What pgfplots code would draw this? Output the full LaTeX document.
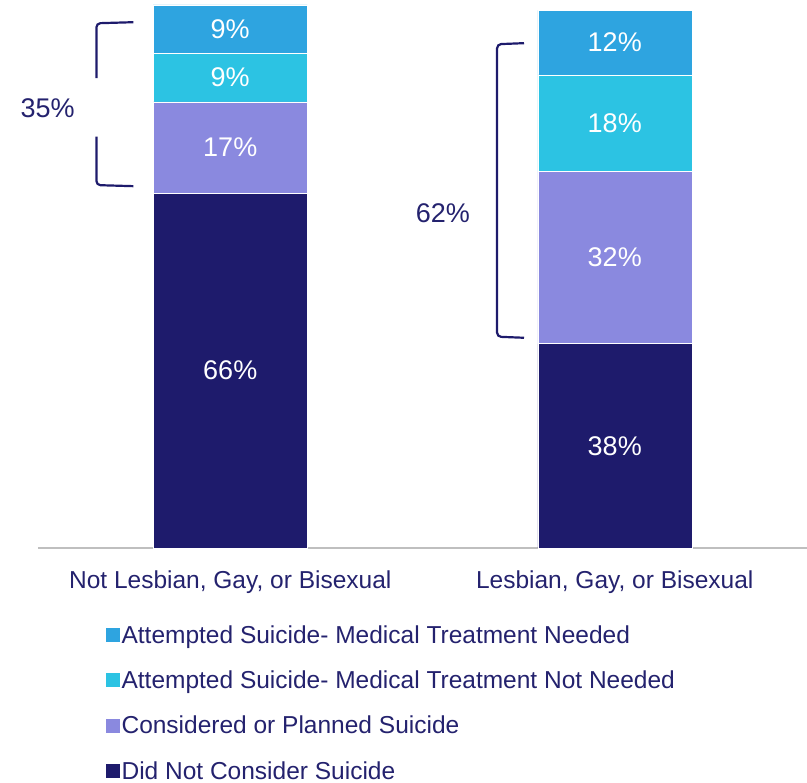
\documentclass[border=0pt]{standalone}
\usepackage{fontspec}
\setmainfont{Liberation Sans}
\usepackage{pgfplots}
\usepackage{pgfplotstable}
\pgfplotsset{compat=1.18}
\definecolor{cNavy}{HTML}{1E1B6C}
\definecolor{cLav}{HTML}{8A89DF}
\definecolor{cCyan}{HTML}{2CC3E3}
\definecolor{cBlue}{HTML}{2EA4E0}
\definecolor{cText}{HTML}{24226E}
\pgfplotstableread{
x did considered notneeded needed
0 66 17 9 9
1 38 32 18 12
}\datatable
\begin{document}
\begin{tikzpicture}
\useasboundingbox (0,0) rectangle (807pt,783pt);
\begin{axis}[
  at={(38pt,235pt)}, anchor=south west,
  scale only axis, width=769pt, height=548pt,
  ybar stacked, bar width=154pt,
  xmin=-0.5, xmax=1.5, ymin=0, ymax=101.93,
  axis x line=bottom, axis y line=none,
  x axis line style={-, draw=black!25, line width=1.5pt},
  xtick={0,1},
  xticklabels={{Not Lesbian, Gay, or Bisexual},{Lesbian, Gay, or Bisexual}},
  major tick length=0pt,
  xticklabel style={text=cText, font=\fontsize{24.5}{28}\selectfont, yshift=-19pt},
  clip=false,
  /pgf/number format/assume math mode=true,
  visualization depends on=rawy \as \rawy,
  nodes near coords={\pgfmathprintnumber[assume math mode=true]{\rawy}\%},
  every node near coord/.append style={anchor=center, text=white,
     font=\fontsize{27}{31}\selectfont},
  legend style={at={(0.0876,-0.1375)}, anchor=north west, draw=none, fill=none,
     font=\fontsize{24.5}{28}\selectfont, text=cText, row sep=22pt,
     cells={anchor=west}, inner sep=0pt},
  reverse legend,
  legend image code/.code={\fill[#1, draw=none] (-10pt,-7pt) rectangle (4pt,7pt);},
]
\addplot[fill=cNavy, draw=white, line width=0.5pt] table[x=x, y=did]{\datatable};
\addlegendentry{Did Not Consider Suicide}
\addplot[fill=cLav, draw=white, line width=0.5pt] table[x=x, y=considered]{\datatable};
\addlegendentry{Considered or Planned Suicide}
\addplot[fill=cCyan, draw=white, line width=0.5pt] table[x=x, y=notneeded]{\datatable};
\addlegendentry{Attempted Suicide- Medical Treatment Not Needed}
\addplot[fill=cBlue, draw=white, line width=0.5pt] table[x=x, y=needed]{\datatable};
\addlegendentry{Attempted Suicide- Medical Treatment Needed}

\draw[cNavy, line width=2.2pt, rounded corners=4pt]
  (axis cs:-0.252,97.8) -- (axis cs:-0.348,97.6) -- (axis cs:-0.348,87.4);
\draw[cNavy, line width=2.2pt, rounded corners=4pt]
  (axis cs:-0.348,76.5) -- (axis cs:-0.348,67.5) -- (axis cs:-0.252,67.3);
\draw[cNavy, line width=2.2pt, rounded corners=4pt]
  (axis cs:0.764,93.9) -- (axis cs:0.694,93.7) -- (axis cs:0.694,39.3) -- (axis cs:0.764,39.1);
\node[text=cText, font=\fontsize{27}{31}\selectfont] at (axis cs:-0.475,81.8) {35\%};
\node[text=cText, font=\fontsize{27}{31}\selectfont] at (axis cs:0.553,62.3) {62\%};
\end{axis}
\end{tikzpicture}
\end{document}
